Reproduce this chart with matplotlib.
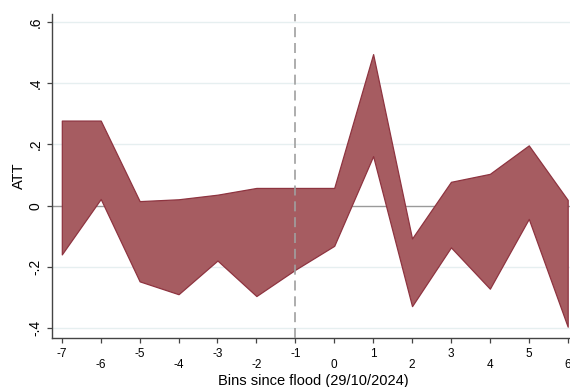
import numpy as np
import matplotlib.pyplot as plt

plt.rcParams['font.family'] = ['Liberation Sans', 'DejaVu Sans']

bins = [-7, -6, -5, -4, -3, -2, -1, 0, 1, 2, 3, 4, 5, 6]
upper = [0.278, 0.278, 0.015, 0.021, 0.036, 0.058, 0.058, 0.058, 0.495, -0.107, 0.078, 0.104, 0.197, 0.019]
lower = [-0.159, 0.022, -0.247, -0.289, -0.179, -0.295, -0.209, -0.131, 0.162, -0.328, -0.136, -0.271, -0.043, -0.395]
yticks = [-0.4, -0.2, 0, 0.2, 0.4, 0.6]
ytick_labels = ['-.4', '-.2', '0', '.2', '.4', '.6']

fig = plt.figure(figsize=(5.7, 3.87), dpi=100)
ax = fig.add_axes([51.7 / 570, 1 - 337.7 / 387, 530 / 570, (337.7 - 14) / 387])

# grid and reference lines
for yv in yticks:
    if yv != 0:
        ax.axhline(yv, color='#e6eff0', lw=1.0, zorder=0)
ax.axhline(0, color='#9a9a9a', lw=1.0, zorder=1)

ax.fill_between(bins, lower, upper, facecolor='#a65c61', edgecolor='#8e3440', lw=0.9, zorder=2)
ax.axvline(-1, color='#a0a0a0', lw=1.2, ls=(0, (6, 3.5)), zorder=3)

ax.set_xlim(-7.26, 6.36)
ax.set_ylim(-0.431, 0.626)

ax.set_xticks(bins)
ax.set_xticklabels([str(b) for b in bins], fontsize=8.5)
# alternate tick labels on two rows
for i, tick in enumerate(ax.xaxis.get_major_ticks()):
    tick.set_pad(3.5 if i % 2 == 0 else 11.8)

ax.set_yticks(yticks)
ax.set_yticklabels(ytick_labels, fontsize=10, rotation=90, va='center')

ax.tick_params(axis='both', colors='#444444', length=3.6, width=0.9)
ax.tick_params(axis='x', labelcolor='black')
ax.tick_params(axis='y', labelcolor='black', pad=3)

for s in ['top', 'right']:
    ax.spines[s].set_visible(False)
for s in ['left', 'bottom']:
    ax.spines[s].set_color('#444444')
    ax.spines[s].set_linewidth(1.0)

ax.set_xlabel('Bins since flood (29/10/2024)', fontsize=10.5, va='center')
ax.xaxis.set_label_coords(0.494, -(380.7 - 337.7) / 323.7)
ax.set_ylabel('ATT', fontsize=10.5, va='center')
ax.yaxis.set_label_coords(-(51.7 - 19) / 530, 0.5)

fig.savefig('out.png', dpi=100)
